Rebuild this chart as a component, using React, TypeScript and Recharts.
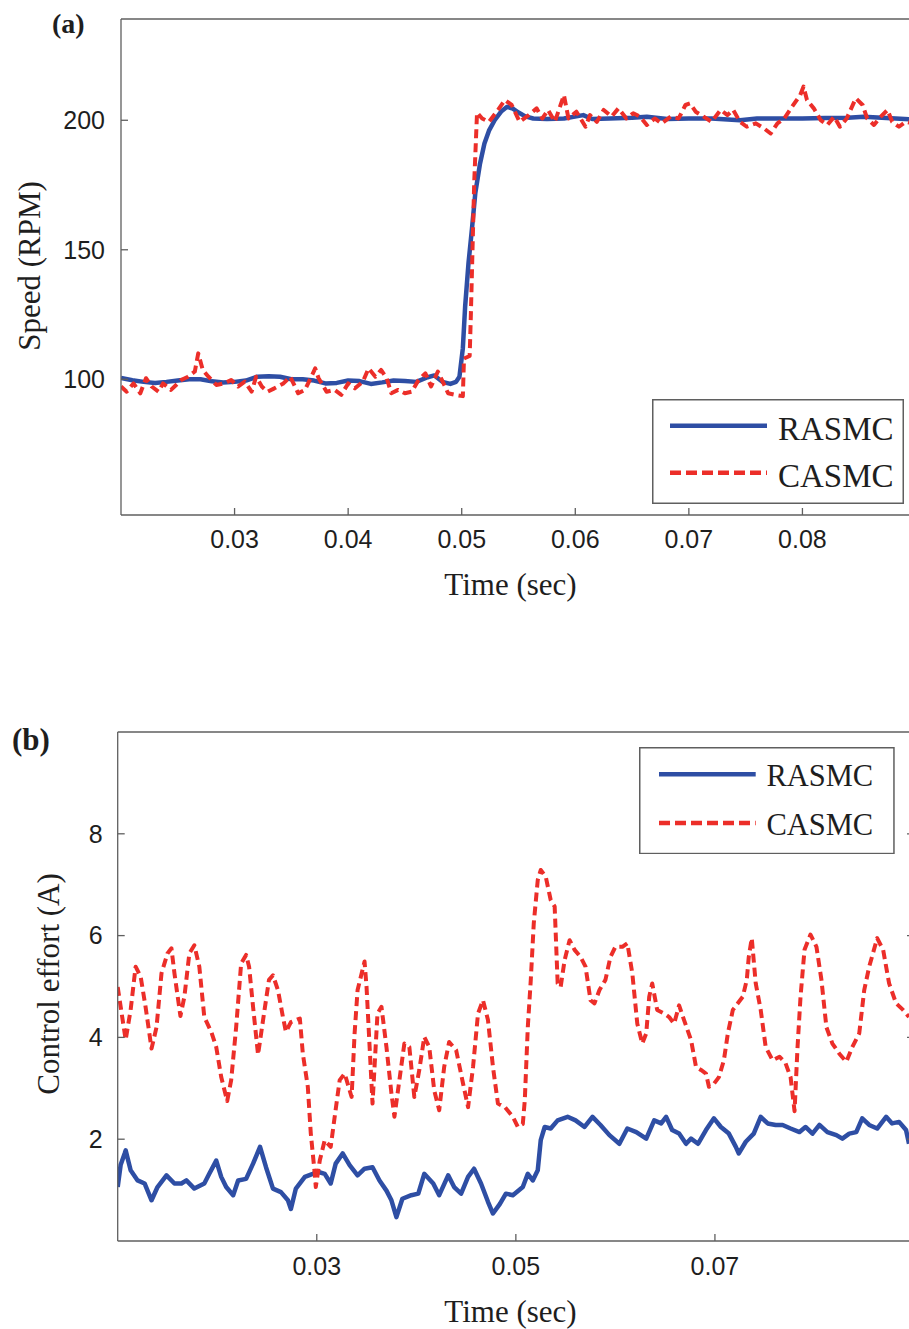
import React from 'react';
import { LineChart, Line, XAxis, YAxis, Legend, Label } from 'recharts';

// (a) speed response — time in ms, speed in RPM
const A_RASMC_T = [20, 21, 22, 23, 24, 25, 26, 27, 28, 29, 30, 31, 32, 33, 34, 35, 36, 37, 38, 39, 40, 41, 42, 43, 44, 45, 46, 47, 47.6, 48.3, 49, 49.5, 49.8, 50.1, 50.3, 50.6, 50.9, 51.2, 51.6, 52, 52.4, 52.9, 53.5, 54, 54.5, 55, 55.6, 56.3, 57.5, 59, 60.7, 61.5, 63, 65, 66.3, 68.1, 70, 72, 74.5, 76, 78, 80, 82, 84, 85.4, 87, 89, 90];
const A_RASMC_V = [100.5, 99.6, 99, 98.6, 99, 99.5, 100, 100, 99.2, 98.8, 99, 99.5, 101, 101.2, 101, 100, 100, 99.5, 98.4, 98.6, 99.5, 99.3, 98.2, 98.8, 99.5, 99.3, 99, 100.8, 101.5, 99, 98.2, 99, 101, 112, 128, 145, 158, 172, 183, 191, 196, 200, 203.5, 205.2, 204.5, 203, 201.5, 200.7, 200.5, 200.7, 202, 200.5, 200.7, 201, 201.4, 200.5, 200.7, 200.7, 200, 200.7, 200.7, 200.7, 200.9, 201, 201.4, 201, 200.5, 200.3];
const A_CASMC_T = [20, 20.5, 21.1, 21.7, 22.2, 22.7, 23.3, 23.7, 24.4, 24.9, 25.3, 25.9, 26.5, 26.8, 27.2, 27.7, 28.4, 29.1, 29.7, 30.3, 30.9, 31.5, 31.9, 32.4, 32.9, 33.5, 34.3, 34.9, 35.6, 36.2, 37.1, 37.4, 38.1, 38.8, 39.4, 40, 40.6, 41.3, 41.8, 42.4, 42.9, 43.4, 43.8, 44.4, 45, 45.6, 46.2, 46.8, 47.3, 47.9, 48.4, 48.8, 49.4, 50.1, 50.2, 50.7, 50.8, 51.1, 51.35, 51.8, 52.4, 53.2, 53.8, 54.4, 55.1, 55.9, 56.6, 57.1, 57.6, 58.2, 59, 59.4, 60.1, 60.9, 61.3, 61.9, 62.5, 63.2, 63.8, 64.5, 65.1, 65.7, 66.3, 67, 67.6, 68.4, 69.1, 69.7, 70.1, 70.6, 71.3, 72, 72.8, 73.4, 73.9, 74.5, 75.1, 75.9, 76.6, 77.2, 77.8, 78.4, 78.9, 79.4, 79.8, 80.1, 80.4, 81, 81.6, 82.2, 82.8, 83.3, 83.9, 84.7, 85.3, 85.7, 86.3, 86.9, 87.5, 87.9, 88.5, 89.1, 90];
const A_CASMC_V = [97.2, 95.2, 98.4, 94.6, 100.4, 97.2, 95.2, 98.4, 95.9, 98, 99.7, 101, 103, 110, 103.6, 101, 97.8, 98.4, 99.7, 97.2, 99.1, 95.2, 101, 97.2, 95.2, 96.5, 98.4, 101, 94.6, 95.9, 104.2, 100.4, 95.2, 95.9, 94, 98.4, 96.5, 99.1, 104.2, 101, 103.6, 100.4, 94.6, 95.9, 94.6, 95.2, 99.7, 102.3, 97.2, 103, 98.4, 94.6, 94, 93.5, 108, 109, 124, 176, 203, 200.7, 199.4, 204, 207.8, 205.9, 199.4, 202, 204.6, 200.7, 204, 199.4, 209.7, 200.7, 203.3, 197.5, 202, 199.4, 204, 201.4, 204.6, 200.7, 202.7, 201.4, 198.2, 200.7, 198.8, 201.4, 200.7, 205.9, 206.5, 203.3, 201.4, 199.4, 204, 202, 204, 199.4, 197.5, 198.8, 196.9, 194.9, 198.8, 200.7, 204, 207.2, 209.7, 213, 207.8, 204.6, 200.1, 198.2, 201.4, 197.5, 200.7, 208.5, 205.9, 200.7, 198.2, 201.4, 204, 199.4, 197.5, 199.4, 198.5];
const A_X_TICKS = [30, 40, 50, 60, 70, 80];
const A_Y_TICKS = [100, 150, 200];

// (b) control effort — time in ms, current in A
const B_RASMC_T = [10, 10.3, 10.7, 10.8, 11.3, 12, 12.7, 13.4, 14, 14.9, 15.7, 16.4, 16.9, 17.7, 18.7, 19.2, 19.9, 20.4, 20.9, 21.6, 22.1, 22.9, 23.6, 24.3, 24.9, 25.6, 26.4, 27.1, 27.4, 27.9, 28.8, 29.6, 30.1, 30.8, 31.4, 31.9, 32.6, 33.3, 34.1, 34.8, 35.6, 36.3, 37, 37.5, 38, 38.6, 39.5, 40.2, 40.8, 41.7, 42.3, 43.2, 43.8, 44.5, 45.2, 45.8, 46.5, 47.2, 47.7, 48.4, 49, 49.7, 50.7, 51.2, 51.7, 52.2, 52.5, 52.9, 53.5, 54.2, 55.2, 56, 56.9, 57.7, 58.5, 59.4, 60.4, 61.2, 62.1, 63.1, 63.9, 64.6, 65.1, 65.7, 66.4, 67.1, 67.6, 68.3, 69.1, 69.9, 70.6, 71.4, 72.1, 72.4, 73.1, 73.9, 74.6, 75.3, 76.1, 76.8, 77.6, 78.5, 79.1, 79.8, 80.5, 81.3, 82.2, 82.8, 83.5, 84.2, 84.8, 85.5, 86.3, 87.2, 87.8, 88.5, 89.2, 89.5];
const B_RASMC_V = [1.06, 1.5, 1.72, 1.78, 1.39, 1.19, 1.13, 0.8, 1.06, 1.29, 1.13, 1.13, 1.19, 1.03, 1.13, 1.32, 1.58, 1.26, 1.06, 0.9, 1.19, 1.22, 1.52, 1.85, 1.45, 1.03, 0.96, 0.8, 0.63, 1.03, 1.26, 1.32, 1.36, 1.32, 1.13, 1.52, 1.72, 1.49, 1.29, 1.42, 1.45, 1.19, 0.99, 0.8, 0.47, 0.83, 0.9, 0.93, 1.32, 1.13, 0.9, 1.29, 1.06, 0.93, 1.26, 1.42, 1.13, 0.77, 0.54, 0.73, 0.93, 0.9, 1.06, 1.32, 1.19, 1.39, 1.98, 2.24, 2.21, 2.37, 2.44, 2.37, 2.24, 2.44, 2.28, 2.08, 1.91, 2.21, 2.14, 2.01, 2.37, 2.31, 2.44, 2.18, 2.11, 1.91, 2.01, 1.91, 2.18, 2.41, 2.24, 2.11, 1.85, 1.72, 1.95, 2.11, 2.44, 2.31, 2.28, 2.28, 2.21, 2.14, 2.24, 2.11, 2.28, 2.14, 2.08, 2.01, 2.11, 2.14, 2.41, 2.28, 2.21, 2.44, 2.31, 2.34, 2.18, 1.91];
const B_CASMC_T = [10, 10.3, 10.8, 11.3, 11.8, 12.3, 12.8, 13.4, 13.9, 14.4, 15, 15.4, 15.7, 16.3, 16.7, 17.2, 17.7, 18.2, 18.7, 19.4, 19.9, 20.4, 21, 21.4, 21.9, 22.4, 22.9, 23.2, 23.6, 24.1, 24.7, 25.2, 25.6, 26.1, 26.6, 26.9, 27.4, 28.3, 28.6, 29.1, 29.4, 29.8, 29.9, 30.3, 30.8, 31.4, 31.8, 32.3, 32.8, 33.5, 33.8, 34.1, 34.8, 35, 35.6, 36.1, 36.5, 37, 37.5, 37.8, 38.3, 38.8, 39.3, 39.8, 40.3, 40.8, 41.3, 41.8, 42.3, 42.8, 43.3, 44, 44.7, 45.2, 45.7, 46.2, 46.7, 47.2, 47.7, 48.2, 48.9, 49.7, 50.2, 50.7, 50.9, 51.2, 51.5, 51.8, 52.2, 52.5, 53, 53.5, 53.9, 54.2, 54.5, 54.9, 55.4, 55.9, 56.5, 57, 57.5, 57.9, 58.4, 59, 59.5, 60, 60.7, 61.2, 61.7, 62.2, 62.7, 63.1, 63.4, 63.7, 64.2, 64.9, 65.4, 65.9, 66.4, 66.9, 67.6, 68.1, 68.6, 69.1, 69.4, 69.9, 70.4, 70.9, 71.3, 71.8, 72.3, 72.8, 73.2, 73.4, 73.7, 74.1, 74.6, 75.1, 75.8, 76.5, 77.1, 77.6, 78, 78.3, 78.6, 79, 79.6, 80.2, 80.7, 81.2, 81.8, 82.5, 83.2, 83.8, 84.5, 85, 85.5, 86.3, 86.9, 87.5, 88.2, 88.9, 89.5];
const B_CASMC_V = [4.99, 4.6, 3.95, 4.54, 5.39, 5.2, 4.6, 3.78, 4.2, 5.26, 5.65, 5.75, 5.26, 4.42, 4.8, 5.65, 5.81, 5.39, 4.4, 4.11, 3.81, 3.22, 2.75, 3.16, 4.2, 5.45, 5.62, 5.39, 4.6, 3.66, 4.47, 5.13, 5.22, 4.93, 4.4, 4.11, 4.3, 4.37, 3.68, 3.03, 2.11, 1.32, 1.06, 1.58, 1.98, 1.85, 2.44, 3.16, 3.29, 2.83, 4.08, 4.93, 5.49, 4.99, 2.7, 4.47, 4.6, 3.81, 2.9, 2.44, 3.16, 3.88, 3.81, 2.83, 3.36, 4.01, 3.81, 2.96, 2.57, 3.42, 3.91, 3.75, 3.09, 2.63, 3.42, 4.47, 4.73, 4.34, 3.42, 2.7, 2.63, 2.44, 2.24, 2.3, 2.77, 4.2, 5.13, 6.24, 7.09, 7.29, 7.16, 6.7, 6.57, 5.06, 4.99, 5.52, 5.91, 5.72, 5.58, 5.39, 4.73, 4.67, 4.93, 5.13, 5.58, 5.78, 5.78, 5.85, 5.26, 4.27, 3.88, 4.08, 4.8, 5.06, 4.54, 4.47, 4.4, 4.27, 4.63, 4.34, 3.95, 3.42, 3.36, 3.29, 3.03, 3.09, 3.22, 3.55, 4.08, 4.54, 4.67, 4.8, 5.13, 5.58, 5.95, 5.06, 4.54, 3.81, 3.55, 3.62, 3.49, 3.22, 2.55, 3.81, 4.8, 5.72, 6.02, 5.78, 5.13, 4.2, 3.88, 3.68, 3.52, 3.81, 4.08, 4.93, 5.39, 5.95, 5.72, 5.06, 4.67, 4.54, 4.4];
const B_X_TICKS = [30, 50, 70];
const B_Y_TICKS = [2, 4, 6, 8];

const SERIES = ['RASMC', 'CASMC'];

const BLUE = '#2e4ea4';
const RED = '#ec2e29';
const AXIS = '#5f5f5f';
const SANS = '"Liberation Sans", Arial, sans-serif';
const SERIF = '"Liberation Serif", "Times New Roman", serif';
const TICK_IN = -7; // negative size -> tick marks point into the plot

const zip = (t: number[], v: number[]) => t.map((x, i) => ({ t: x, v: v[i] }));
const fmtTime = (ms: number) => (ms / 1000).toFixed(2);
const blank = () => '';

const tickText = { fontFamily: SANS, fontSize: 25, fill: '#1e1e1e' };
const axisLine = { stroke: AXIS, strokeWidth: 1.3 };

// legend drawn in a fixed order: solid blue first, dashed red second
const LegendBox = ({ w, h, rows, lineX, textX, base, fontSize }: any) => (
  <svg width={w} height={h} style={{ display: 'block' }}>
    <rect x={0.75} y={0.75} width={w - 1.5} height={h - 1.5} fill="#fff" stroke={AXIS} strokeWidth={1.5} />
    {SERIES.map((name, i) => (
      <g key={name}>
        <line x1={lineX[0]} x2={lineX[1]} y1={rows[i]} y2={rows[i]} stroke={i === 0 ? BLUE : RED}
          strokeWidth={4.5} strokeDasharray={i === 1 ? '11 5' : undefined} />
        <text x={textX} y={base[i]} fontFamily={SERIF} fontSize={fontSize} fill="#1e1e1e">{name}</text>
      </g>
    ))}
  </svg>
);

function Panel(p: any) {
  const pre = p.id;
  return (
    <LineChart width={p.width} height={p.height} margin={p.margin}>
      <XAxis xAxisId={pre + 'b'} type="number" dataKey="t" domain={p.xDomain} ticks={p.xTicks}
        allowDataOverflow height={60} tickLine={axisLine} tickSize={TICK_IN} tickMargin={p.xTickGap - TICK_IN}
        axisLine={axisLine} tick={tickText} tickFormatter={fmtTime}>
        <Label content={() => (
          <text x={p.xTitle[0]} y={p.xTitle[1]} textAnchor="middle" fontFamily={SERIF} fontSize={31} fill="#1e1e1e">Time (sec)</text>
        )} />
      </XAxis>
      <XAxis xAxisId={pre + 't'} orientation="top" type="number" domain={p.xDomain} ticks={p.xTicks}
        allowDataOverflow height={1} tickFormatter={blank} tickSize={TICK_IN} axisLine={axisLine} tickLine={axisLine} />
      <YAxis yAxisId={pre + 'l'} type="number" domain={p.yDomain} ticks={p.yTicks} allowDataOverflow
        width={60} tickLine={axisLine} tickSize={TICK_IN} tickMargin={p.yTickGap - TICK_IN} axisLine={axisLine} tick={tickText}>
        <Label content={() => (
          <g>
            <text transform={`rotate(-90 ${p.yTitle[0]} ${p.yTitle[1]})`} x={p.yTitle[0]} y={p.yTitle[1]}
              textAnchor="middle" fontFamily={SERIF} fontSize={31} fill="#1e1e1e">{p.yLabel}</text>
            <text x={p.tag[0]} y={p.tag[1]} fontFamily={SERIF} fontWeight="bold" fontSize={p.tag[2]} fill="#1e1e1e">{p.tagText}</text>
          </g>
        )} />
      </YAxis>
      <YAxis yAxisId={pre + 'r'} orientation="right" type="number" domain={p.yDomain} ticks={p.yTicks}
        allowDataOverflow width={1} tickFormatter={blank} tickSize={TICK_IN} axisLine={axisLine} tickLine={axisLine} />
      <Legend layout="vertical" align="center" verticalAlign="middle"
        wrapperStyle={{ left: p.legend.left, top: p.legend.top, width: p.legend.w, height: p.legend.h }}
        content={() => <LegendBox {...p.legend} />} />
      <Line xAxisId={pre + 'b'} yAxisId={pre + 'l'} data={p.blue} dataKey="v" name={SERIES[0]} type="linear"
        stroke={BLUE} strokeWidth={4.5} dot={false} isAnimationActive={false} strokeLinejoin="round" />
      <Line xAxisId={pre + 'b'} yAxisId={pre + 'l'} data={p.red} dataKey="v" name={SERIES[1]} type="linear"
        stroke={RED} strokeWidth={4} strokeDasharray="9 5" dot={false} isAnimationActive={false} strokeLinejoin="round" />
    </LineChart>
  );
}

export default function App() {
  return (
    <div style={{ position: 'absolute', left: 0, top: 0, width: 909, height: 1329, overflow: 'hidden', background: '#fff' }}>
      <div style={{ position: 'absolute', left: 0, top: 0 }}>
        <Panel id="a" width={917} height={640} margin={{ top: 18, right: 0, bottom: 65, left: 61 }}
          xDomain={[20, 90]} yDomain={[47.6, 239.1]} xTicks={A_X_TICKS} yTicks={A_Y_TICKS}
          xTickGap={15} yTickGap={16} xTitle={[510.5, 595]} yTitle={[40, 266]} yLabel="Speed (RPM)"
          tag={[52, 33, 28]} tagText="(a)"
          blue={zip(A_RASMC_T, A_RASMC_V)} red={zip(A_CASMC_T, A_CASMC_V)}
          legend={{ left: 651.7, top: 399.3, w: 252, h: 105, rows: [26.7, 73.7], lineX: [18, 115], textX: 126, base: [41.4, 88], fontSize: 33 }} />
      </div>
      <div style={{ position: 'absolute', left: 0, top: 640 }}>
        <Panel id="b" width={915} height={689} margin={{ top: 91, right: 0, bottom: 28, left: 57.7 }}
          xDomain={[10, 90]} yDomain={[0, 10]} xTicks={B_X_TICKS} yTicks={B_Y_TICKS}
          xTickGap={16} yTickGap={15} xTitle={[510.5, 681.7]} yTitle={[59, 344]} yLabel="Control effort (A)"
          tag={[12, 110, 31]} tagText="(b)"
          blue={zip(B_RASMC_T, B_RASMC_V)} red={zip(B_CASMC_T, B_CASMC_V)}
          legend={{ left: 639.3, top: 106.7, w: 255.7, h: 107.3, rows: [27.3, 76], lineX: [20, 116.7], textX: 127.4, base: [39.3, 87.6], fontSize: 30.5 }} />
      </div>
    </div>
  );
}
